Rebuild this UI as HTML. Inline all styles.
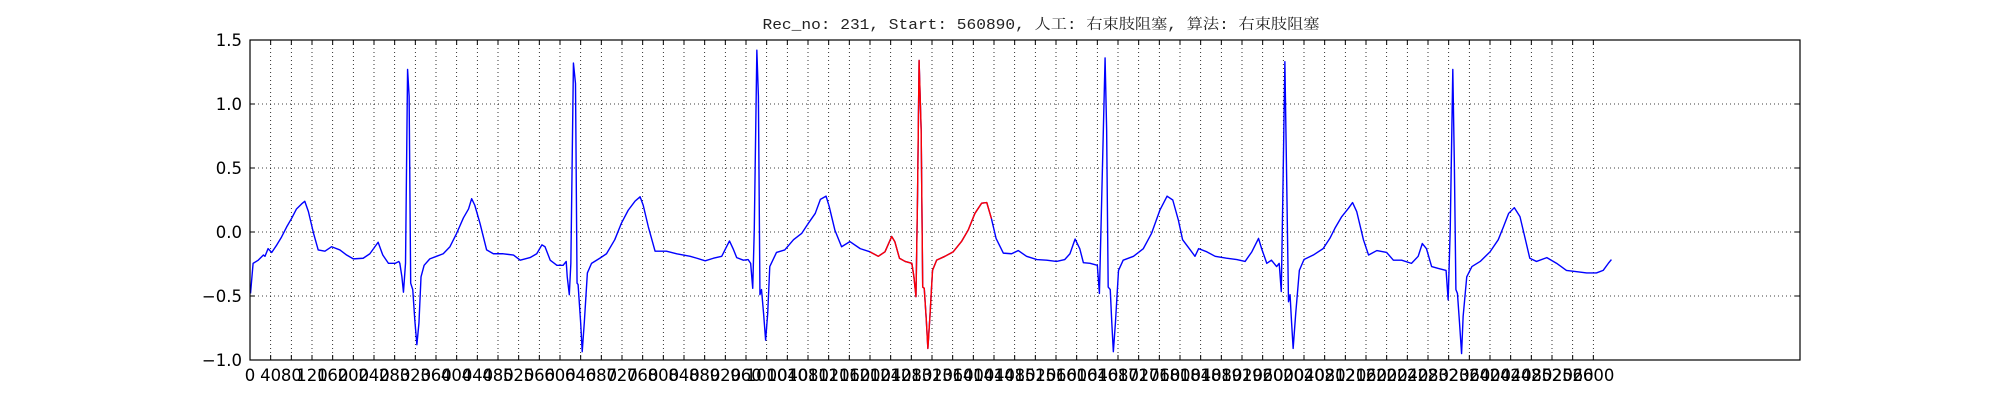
<!DOCTYPE html>
<html><head><meta charset="utf-8"><style>
html,body{margin:0;padding:0;background:#fff;}
svg{display:block;}
</style></head><body>
<svg id="chart" width="2000" height="400" viewBox="0 0 2000 400" xmlns="http://www.w3.org/2000/svg">
<rect x="0" y="0" width="2000" height="400" fill="#fff"/>
<text x="1041" y="29" text-anchor="middle" font-family="'Liberation Mono','Noto Serif CJK SC',monospace" font-size="14.5" textLength="557" lengthAdjust="spacingAndGlyphs" fill="#222">Rec_no: 231, Start: 560890, 人工: 右束肢阻塞, 算法: 右束肢阻塞</text>
<g id="grid"></g>
<g id="series"></g>
<g id="axes"></g>
</svg>
<script>
const sampleIdx = [1,6,16,26,29,35,42,52,61,71,81,90,100,106,113,123,132,145,158,174,187,200,219,232,248,257,268,281,288,290,294,297,301,305,308,311,315,319,323,327,331,337,348,361,374,387,400,413,423,429,435,445,458,471,490,510,523,542,555,565,571,581,594,606,612,614,618,621,626,630,633,635,640,643,647,653,661,677,690,706,719,732,745,755,761,771,784,806,826,852,865,881,897,913,928,935,942,955,964,969,973,976,981,984,987,990,994,998,1002,1006,1019,1035,1052,1068,1081,1094,1104,1115,1121,1132,1145,1161,1181,1200,1216,1229,1242,1248,1257,1268,1281,1285,1289,1292,1295,1299,1302,1305,1309,1312,1316,1321,1329,1345,1361,1377,1390,1403,1416,1426,1435,1444,1458,1474,1487,1503,1523,1542,1561,1577,1587,1597,1606,1613,1626,1640,1644,1647,1655,1658,1661,1665,1668,1671,1675,1681,1690,1710,1729,1745,1761,1775,1786,1797,1805,1819,1829,1836,1852,1868,1890,1910,1926,1939,1952,1958,1968,1977,1987,1992,1996,1999,2003,2006,2010,2013,2016,2019,2024,2031,2040,2058,2077,2090,2100,2113,2126,2134,2142,2155,2165,2181,2200,2213,2229,2248,2261,2269,2277,2287,2300,2315,2319,2323,2328,2331,2334,2337,2341,2345,2348,2355,2365,2381,2400,2416,2426,2436,2447,2458,2468,2477,2490,2510,2529,2548,2568,2587,2606,2619,2629,2635];
const ecgValues = [-0.48,-0.245,-0.22,-0.18,-0.19,-0.13,-0.16,-0.10,-0.04,0.04,0.11,0.18,0.22,0.24,0.16,-0.01,-0.14,-0.15,-0.115,-0.14,-0.18,-0.21,-0.205,-0.17,-0.08,-0.18,-0.245,-0.245,-0.23,-0.245,-0.35,-0.47,-0.245,1.27,1.06,-0.40,-0.45,-0.69,-0.88,-0.71,-0.35,-0.26,-0.21,-0.19,-0.17,-0.115,-0.01,0.11,0.18,0.26,0.21,0.07,-0.14,-0.17,-0.17,-0.18,-0.22,-0.20,-0.17,-0.10,-0.115,-0.22,-0.26,-0.26,-0.23,-0.35,-0.49,-0.245,1.32,1.16,-0.40,-0.41,-0.71,-0.935,-0.71,-0.32,-0.245,-0.205,-0.17,-0.06,0.07,0.17,0.24,0.275,0.21,0.04,-0.15,-0.15,-0.17,-0.19,-0.205,-0.225,-0.205,-0.19,-0.07,-0.13,-0.20,-0.22,-0.215,-0.245,-0.44,0.015,1.42,1.06,-0.49,-0.45,-0.635,-0.845,-0.635,-0.27,-0.16,-0.14,-0.06,-0.01,0.07,0.145,0.255,0.28,0.20,0.015,-0.115,-0.075,-0.13,-0.155,-0.19,-0.155,-0.035,-0.075,-0.205,-0.23,-0.245,-0.35,-0.505,0.275,1.34,0.80,-0.43,-0.44,-0.69,-0.91,-0.66,-0.30,-0.22,-0.19,-0.155,-0.075,0.015,0.145,0.225,0.23,0.105,-0.05,-0.165,-0.17,-0.145,-0.19,-0.215,-0.22,-0.23,-0.215,-0.17,-0.055,-0.13,-0.24,-0.245,-0.26,-0.48,0.015,1.36,0.80,-0.43,-0.45,-0.71,-0.935,-0.71,-0.30,-0.22,-0.19,-0.13,-0.01,0.17,0.28,0.25,0.09,-0.06,-0.135,-0.19,-0.13,-0.155,-0.19,-0.205,-0.215,-0.23,-0.155,-0.05,-0.13,-0.245,-0.22,-0.27,-0.245,-0.465,0.275,1.33,0.535,-0.545,-0.49,-0.71,-0.91,-0.635,-0.30,-0.215,-0.18,-0.13,-0.05,0.03,0.12,0.185,0.23,0.16,-0.06,-0.18,-0.145,-0.16,-0.22,-0.22,-0.245,-0.19,-0.09,-0.13,-0.27,-0.285,-0.30,-0.53,0.015,1.27,0.535,-0.45,-0.48,-0.71,-0.95,-0.66,-0.35,-0.27,-0.23,-0.155,-0.06,0.04,0.145,0.19,0.12,-0.05,-0.205,-0.23,-0.20,-0.245,-0.30,-0.31,-0.32,-0.32,-0.30,-0.245,-0.215];
const highlightRange = [1200, 1442];
const xTickStep = 40;
const xTickMax = 2600;
const yTicks = [-1.0, -0.5, 0.0, 0.5, 1.0, 1.5];
const yTickLabels = ["\u22121.0", "\u22120.5", "0.0", "0.5", "1.0", "1.5"];

const NS = "http://www.w3.org/2000/svg";
const L = 250, R = 1800, T = 40, B = 360;
const X_MIN = 0, X_MAX = 3000, Y_MIN = -1.0, Y_MAX = 1.5;
function xs(v){ return L + (v - X_MIN) / (X_MAX - X_MIN) * (R - L); }
function ys(v){ return B - (v - Y_MIN) / (Y_MAX - Y_MIN) * (B - T); }
function mk(tag, attrs, parent){
  const e = document.createElementNS(NS, tag);
  for (const k in attrs) e.setAttribute(k, attrs[k]);
  parent.appendChild(e);
  return e;
}
const grid = document.getElementById('grid');
const axes = document.getElementById('axes');
const series = document.getElementById('series');

// x grid + ticks
for (let v = 0; v <= xTickMax; v += xTickStep) {
  const x = xs(v);
  const g = mk('line', {x1:x, x2:x, y1:T, y2:B, stroke:'#000', 'stroke-width':0.8, 'stroke-dasharray':'1,3'}, grid);
  
  
  const t1 = mk('line', {x1:x, x2:x, y1:B, y2:B-5, stroke:'#000', 'stroke-width':1}, axes);
  
  
  const t2 = mk('line', {x1:x, x2:x, y1:T, y2:T+5, stroke:'#000', 'stroke-width':1}, axes);
  
  
  const lb = mk('text', {x:x, y:381, 'text-anchor':'middle', 'font-family':"'DejaVu Sans','Liberation Sans',sans-serif", 'font-size':16.5, fill:'#000'}, axes);
  lb.textContent = String(v);
  
  
}
// y grid + ticks
yTicks.forEach((v, i) => {
  const y = ys(v);
  const g = mk('line', {x1:L, x2:R, y1:y, y2:y, stroke:'#000', 'stroke-width':0.8, 'stroke-dasharray':'1,3'}, grid);
  
  
  const t1 = mk('line', {x1:L, x2:L+5, y1:y, y2:y, stroke:'#000', 'stroke-width':1}, axes);
  
  
  const t2 = mk('line', {x1:R, x2:R-5, y1:y, y2:y, stroke:'#000', 'stroke-width':1}, axes);
  
  
  const lb = mk('text', {x:L-8, y:y+6, 'text-anchor':'end', 'font-family':"'DejaVu Sans','Liberation Sans',sans-serif", 'font-size':16.5, fill:'#000'}, axes);
  lb.textContent = yTickLabels[i];
  
  
});
const frame = mk('rect', {x:L, y:T, width:R-L, height:B-T, fill:'none', stroke:'#000', 'stroke-width':1.2}, axes);



// series
const allPts = sampleIdx.map((s, i) => xs(s).toFixed(2) + ',' + ys(ecgValues[i]).toFixed(2)).join(' ');
const blue = mk('polyline', {points: allPts, fill:'none', stroke:'#0000ff', 'stroke-width':1.4, 'stroke-linejoin':'round'}, series);


const redPts = [];
sampleIdx.forEach((s, i) => {
  if (s >= highlightRange[0] && s <= highlightRange[1]) redPts.push(xs(s).toFixed(2) + ',' + ys(ecgValues[i]).toFixed(2));
});
const red = mk('polyline', {points: redPts.join(' '), fill:'none', stroke:'#ff0000', 'stroke-width':1.4, 'stroke-linejoin':'round'}, series);


</script>
</body></html>
